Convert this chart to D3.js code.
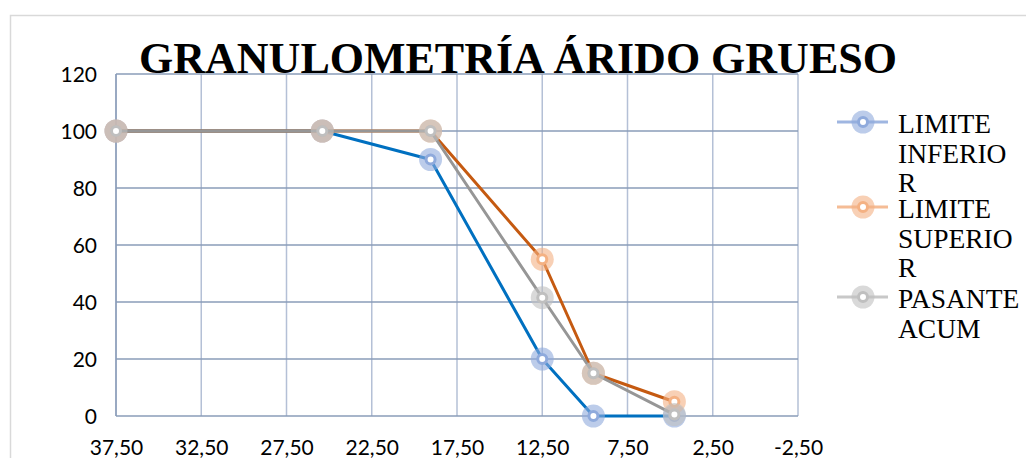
<!DOCTYPE html>
<html><head><meta charset="utf-8">
<script src="https://cdn.jsdelivr.net/npm/d3@7"></script>
<style>html,body{margin:0;padding:0;background:#fff;}svg{display:block;}</style>
</head><body>
<svg id="c" width="1026" height="458"></svg>
<script>
const sizes = [37.5, 25.4, 19.05, 12.5, 9.5, 4.75];
const inferior = [100, 100, 90, 20, 0, 0];
const superior = [100, 100, 100, 55, 15, 5];
const pasante = [100, 100, 100, 41.5, 15, 0.5];
const seriesNames = [["LIMITE","INFERIO","R"],["LIMITE","SUPERIO","R"],["PASANTE","ACUM"]];
const xTicks = [37.5, 32.5, 27.5, 22.5, 17.5, 12.5, 7.5, 2.5, -2.5];
const yTicks = [0, 20, 40, 60, 80, 100, 120];
const title = "GRANULOMETRÍA ÁRIDO GRUESO";

const svg = d3.select("#c");
const L = 116, R = 798, T = 74, B = 416;
const x = d3.scaleLinear().domain([37.5, -2.5]).range([L, R]);
const y = d3.scaleLinear().domain([0, 120]).range([B, T]);

// outer chart border
svg.append("path").attr("d","M10.5,458 L10.5,15.5 L1026,15.5").attr("fill","none").attr("stroke","#d9d9d9").attr("stroke-width",1.5);

// vertical gridlines
svg.append("g").selectAll("line").data(xTicks).join("line")
  .attr("x1", d=>x(d)).attr("x2", d=>x(d)).attr("y1", T).attr("y2", B)
  .attr("stroke", "#b4c0d6").attr("stroke-width", 1.5);
// horizontal gridlines
svg.append("g").selectAll("line").data(yTicks).join("line")
  .attr("x1", L).attr("x2", R).attr("y1", d=>y(d)).attr("y2", d=>y(d))
  .attr("stroke", "#8a9cb8").attr("stroke-width", 1.5);
// left axis line
svg.append("line").attr("x1",L).attr("x2",L).attr("y1",T).attr("y2",B).attr("stroke","#8a9cb8").attr("stroke-width",1.5);

// axes labels via d3 axes
const yAxis = svg.append("g").attr("transform",`translate(${L},0)`)
  .call(d3.axisLeft(y).tickValues(yTicks).tickSize(0).tickPadding(19).tickFormat(d3.format("d")));
yAxis.select(".domain").remove();
yAxis.selectAll("text").attr("font-family","Lato, 'Open Sans', sans-serif").attr("font-size","21px").attr("fill","#000").attr("dy","0.36em");

const fmt = d => d.toFixed(2).replace(".", ",");
const xAxis = svg.append("g").attr("transform",`translate(0,${B})`)
  .call(d3.axisBottom(x).tickValues(xTicks).tickSize(0).tickPadding(24).tickFormat(fmt));
xAxis.select(".domain").remove();
xAxis.selectAll("text").attr("font-family","Lato, 'Open Sans', sans-serif").attr("font-size","21px").attr("fill","#000");

// title
svg.append("text").attr("x", 518).attr("y", 73).attr("text-anchor","middle")
  .attr("font-family","'Liberation Serif','Times New Roman',serif").attr("font-weight","bold")
  .attr("font-size","44px").attr("fill","#000").text(title);

const series = [
  {vals: inferior, line: "#0070C0", tint: "#8FAADC"},
  {vals: superior, line: "#C55A11", tint: "#F4B183"},
  {vals: pasante, line: "#969696", tint: "#BFBFBF"}
];
const lineGen = d3.line().x((d,i)=>x(sizes[i])).y(d=>y(d));

function marker(g, cx, cy, tint){
  g.append("circle").attr("cx",cx).attr("cy",cy).attr("r",11.5).attr("fill",tint).attr("opacity",0.6);
  g.append("circle").attr("cx",cx).attr("cy",cy).attr("r",4.5).attr("fill","#fff").attr("stroke",tint).attr("stroke-width",3);
}

series.forEach(s => {
  const g = svg.append("g");
  g.append("path").datum(s.vals).attr("d", lineGen).attr("fill","none")
    .attr("stroke", s.line).attr("stroke-width", 3).attr("stroke-linejoin","round");
  s.vals.forEach((v,i) => marker(g, x(sizes[i]), y(v), s.tint));
});

// legend
const starts = [133, 218, 308];
series.forEach((s, k) => {
  const g = svg.append("g");
  const my = starts[k] - 11;
  g.append("line").attr("x1",837).attr("x2",888).attr("y1",my).attr("y2",my).attr("stroke",s.tint).attr("stroke-width",3).attr("opacity",0.85);
  marker(g, 863, my, s.tint);
  seriesNames[k].forEach((ln, j) => {
    g.append("text").attr("font-family","'Liberation Serif','Times New Roman',serif").attr("font-size","27.5px").attr("fill","#000")
      .attr("x", 898).attr("y", starts[k] + j*29.5).text(ln);
  });
});
</script>
</body></html>
